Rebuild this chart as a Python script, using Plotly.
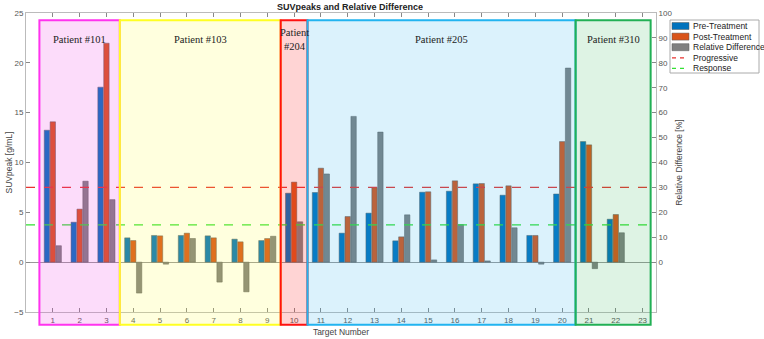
import plotly.graph_objects as go

targets = list(range(1, 24))
pre_treatment = [13.24, 4.01, 17.56, 2.44, 2.68, 2.68, 2.64, 2.31, 2.17, 6.92, 6.99, 2.91,
                 4.92, 2.14, 7.02, 7.12, 7.86, 6.72, 2.68, 6.84, 12.1, 4.31, None]
post_treatment = [14.08, 5.32, 21.97, 2.17, 2.64, 2.91, 2.44, 2.04, 2.37, 8.03, 9.43, 4.58,
                  7.49, 2.54, 7.06, 8.16, 7.89, 7.66, 2.68, 12.1, 11.77, 4.78, None]
relative_diff = [6.6, 32.5, 25.1, -12.4, -0.8, 9.5, -8.0, -11.9, 10.4, 16.2, 35.4, 58.5,
                 52.2, 19.0, 0.9, 15.1, 0.5, 13.8, -0.8, 77.9, -2.6, 11.8, None]
progressive_pct = 30
response_pct = 15

patients = ["Patient #101", "Patient #103", "Patient<br>#204", "Patient #205", "Patient #310"]
patient_edges = [0.5, 3.5, 9.5, 10.5, 20.5, 23.3]
patient_line = ["#FF33EE", "#FFFF22", "#FF1111", "#22B4F0", "#22B055"]
patient_fill = ["rgba(240,60,230,0.18)", "rgba(255,255,60,0.17)", "rgba(255,40,40,0.2)",
                "rgba(40,175,235,0.17)", "rgba(50,180,90,0.16)"]

series_names = ["Pre-Treatment", "Post-Treatment", "Relative Difference", "Progressive", "Response"]
series_colors = ["#0072BD", "#D95319", "#808080", "#E8332F", "#33E033"]

X_RANGE = [0, 23.5]
Y_RANGE = [-5, 25]
Y2_RANGE = [-20, 100]

W, H = 764, 339
ML, MR, MT, MB = 26, 108, 13, 27
PW, PH = W - ML - MR, H - MT - MB

FONT = "Liberation Sans, Arial, sans-serif"
TICKC = "#555555"
EDGE = dict(color="#5a5a5a", width=0.5)

fig = go.Figure()
bw = 0.2
fig.add_trace(go.Bar(x=targets, y=pre_treatment, name=series_names[0], width=bw, offset=-0.32,
                     marker=dict(color=series_colors[0], line=EDGE)))
fig.add_trace(go.Bar(x=targets, y=post_treatment, name=series_names[1], width=bw, offset=-0.10,
                     marker=dict(color=series_colors[1], line=EDGE)))
fig.add_trace(go.Bar(x=targets, y=relative_diff, name=series_names[2], width=bw, offset=0.12,
                     yaxis="y2", marker=dict(color=series_colors[2], line=EDGE)))
fig.add_trace(go.Scatter(x=X_RANGE, y=[progressive_pct] * 2, yaxis="y2", mode="lines",
                         name=series_names[3], line=dict(color=series_colors[3], dash="dash", width=1.2)))
fig.add_trace(go.Scatter(x=X_RANGE, y=[response_pct] * 2, yaxis="y2", mode="lines",
                         name=series_names[4], line=dict(color=series_colors[4], dash="dash", width=1.2)))

def xpaper(v):
    return (v - X_RANGE[0]) / (X_RANGE[1] - X_RANGE[0])

def px_x(px):
    return (px - ML) / PW

def px_y(py):
    return (H - MB - py) / PH

shapes = []
annotations = []
for i, name in enumerate(patients):
    a, b = patient_edges[i], patient_edges[i + 1]
    shapes.append(dict(type="rect", xref="paper", yref="paper", x0=xpaper(a), x1=xpaper(b),
                       y0=-0.043, y1=0.976, layer="above",
                       fillcolor=patient_fill[i], line=dict(color=patient_line[i], width=2)))
    annotations.append(dict(x=(a + b) / 2, xref="x", y=0.912, yref="paper", text=name,
                            showarrow=False, yanchor="middle",
                            font=dict(family="Liberation Serif, Times New Roman, serif",
                                      size=10.5, color="#222222")))

annotations.append(dict(x=0.5, xref="paper", y=1.0, yref="paper", yshift=6, xshift=9,
                        text="<b>SUVpeaks and Relative Difference</b>", showarrow=False,
                        yanchor="middle", font=dict(family=FONT, size=9, color="#222222")))

# legend drawn as a compact box (keys + real text)
shapes.append(dict(type="rect", xref="paper", yref="paper", x0=px_x(670), x1=px_x(759),
                   y0=px_y(73), y1=px_y(20), fillcolor="white", line=dict(color="#AAAAAA", width=1),
                   layer="above"))
row_y = [26, 36.6, 47.2, 57.8, 68.4]
for k, name in enumerate(series_names):
    yc = row_y[k]
    if k < 3:
        shapes.append(dict(type="rect", xref="paper", yref="paper", x0=px_x(672), x1=px_x(689),
                           y0=px_y(yc + 3.5), y1=px_y(yc - 3.5), fillcolor=series_colors[k],
                           line=EDGE, layer="above"))
    else:
        shapes.append(dict(type="line", xref="paper", yref="paper", x0=px_x(672), x1=px_x(687),
                           y0=px_y(yc), y1=px_y(yc), layer="above",
                           line=dict(color=series_colors[k], width=1.2, dash="4px,4px")))
    annotations.append(dict(x=px_x(691), xref="paper", y=px_y(yc), yref="paper", text=name,
                            showarrow=False, xanchor="left", yanchor="middle",
                            font=dict(family=FONT, size=8.5, color="#222222")))

fig.update_layout(
    width=W, height=H,
    margin=dict(l=ML, r=MR, t=MT, b=MB, autoexpand=False),
    plot_bgcolor="white", paper_bgcolor="white",
    barmode="overlay",
    showlegend=False,
    font=dict(family=FONT, size=8, color=TICKC),
    shapes=shapes, annotations=annotations,
    xaxis=dict(range=X_RANGE, tickvals=targets, ticks="inside", ticklen=4, tickcolor="#888888",
               showline=True, linecolor="#BBBBBB", mirror="ticks", showgrid=False, zeroline=False,
               tickfont=dict(size=8, color=TICKC), automargin=False,
               title=dict(text="Target Number", font=dict(size=8.5, color="#444444"), standoff=5)),
    yaxis=dict(range=Y_RANGE, tickvals=[-5, 0, 5, 10, 15, 20, 25], ticks="inside", ticklen=4,
               tickcolor="#888888", showline=True, linecolor="#BBBBBB", showgrid=False,
               zeroline=True, zerolinecolor="#999999", zerolinewidth=1, automargin=False,
               tickfont=dict(size=8, color=TICKC),
               title=dict(text="SUVpeak [g/mL]", font=dict(size=8.5, color="#444444"), standoff=0)),
    yaxis2=dict(range=Y2_RANGE, overlaying="y", side="right", tickvals=list(range(0, 101, 10)),
                ticks="inside", ticklen=4, tickcolor="#888888", showline=True, linecolor="#BBBBBB",
                showgrid=False, zeroline=False, tickfont=dict(size=8, color=TICKC), automargin=False,
                title=dict(text="Relative Difference [%]", font=dict(size=8.5, color="#444444"),
                           standoff=4)),
)

fig.write_html("out.html")
